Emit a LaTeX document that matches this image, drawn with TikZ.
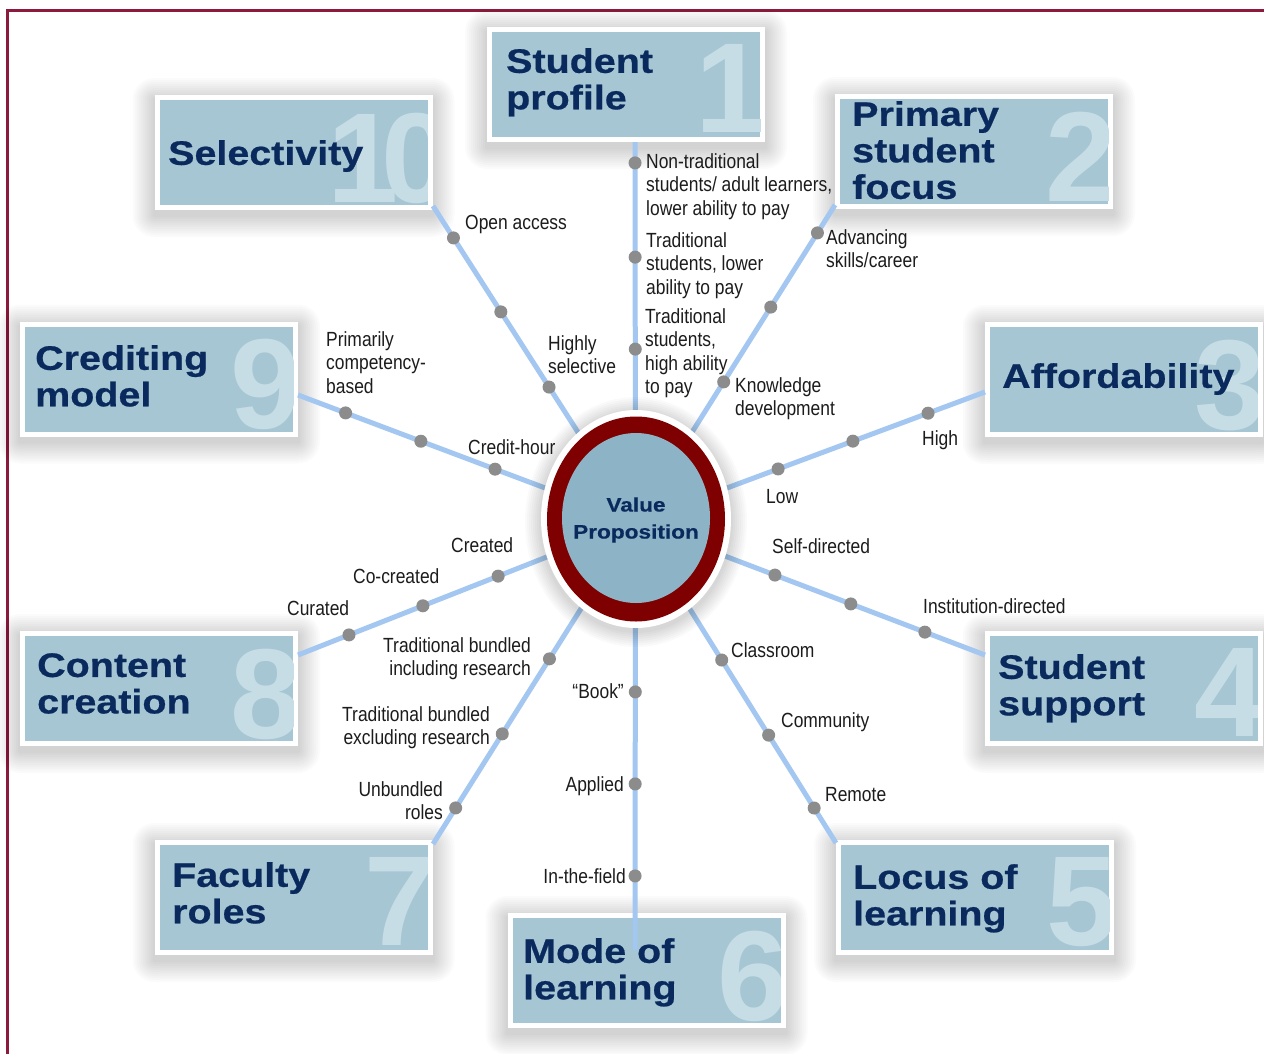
\documentclass[tikz,border=0pt]{standalone}
\usepackage{fontspec}
\setmainfont{Liberation Sans}
\newfontfamily\lblfont[FakeStretch=0.85]{Liberation Sans}
\newfontfamily\ttlfont[FakeStretch=1.16,FakeBold=0.6]{Liberation Sans Bold}
\newfontfamily\numfont{Liberation Sans Bold}
\usetikzlibrary{calc}
\definecolor{boxfill}{HTML}{A6C6D3}
\definecolor{numcol}{HTML}{C6DDE6}
\definecolor{navy}{HTML}{0A2A5E}
\definecolor{spokecol}{HTML}{A3C7F0}
\definecolor{dotcol}{HTML}{8C8C8C}
\definecolor{ringcol}{HTML}{7F0000}
\definecolor{corefill}{HTML}{8CB4C6}
\definecolor{framecol}{HTML}{8B1A3C}
\definecolor{lblcol}{HTML}{1C1C1C}
\tikzset{
 dimbox/.style={draw=white, line width=5pt, fill=boxfill, minimum width=273pt, minimum height=110pt, inner sep=0pt, outer sep=0pt},
 shadowlayer/.style={fill=black, opacity=0.016},
 ttl/.style={anchor=north west, inner sep=0pt, align=left, text=navy, font=\ttlfont\fontsize{34}{36.5}\selectfont},
 bignum/.style={anchor=north east, inner sep=0pt, text=numcol, font=\numfont\fontsize{128}{128}\selectfont},
 spoke/.style={draw=spokecol, line width=5pt},
 pip/.style={circle, fill=dotcol, minimum size=13pt, inner sep=0pt},
 lbl/.style={inner sep=0pt, text=lblcol, font=\lblfont\fontsize{20.5}{23.5}\selectfont},
 lblL/.style={lbl, anchor=north west, align=left},
 lblR/.style={lbl, anchor=north east, align=right},
}
\begin{document}
\begin{tikzpicture}[x=1pt,y=-1pt]
\useasboundingbox (0,0) rectangle (1264,1053);
\fill[white] (0,0) rectangle (1264,1053);
\draw[framecol, line width=3pt] (7.5,1070) -- (7.5,10.5) -- (1280,10.5);

% soft shadows of the boxes
\foreach \cx/\cy in {626/84.5, 974/151.5, 1123.5/379.5, 1123.5/688.5, 975/897.5, 646.5/970.5, 293.5/897.5, 159/688.5, 159/379, 293.5/152.5}{
  \foreach \k in {2,4,...,22}{
    \fill[shadowlayer, rounded corners=\k pt] (\cx-139-\k, \cy-57.5-\k+5) rectangle (\cx+139+\k, \cy+57.5+\k+5);
  }
}

% boxes
\node[dimbox] (b1) at (626,84.5) {};
\node[dimbox] (b2) at (974,151.5) {};
\node[dimbox] (b3) at (1123.5,379.5) {};
\node[dimbox] (b4) at (1123.5,688.5) {};
\node[dimbox] (b5) at (975,897.5) {};
\node[dimbox] (b6) at (646.5,970.5) {};
\node[dimbox] (b7) at (293.5,897.5) {};
\node[dimbox] (b8) at (159,688.5) {};
\node[dimbox] (b9) at (159,379) {};
\node[dimbox] (b10) at (293.5,152.5) {};

% big numbers
\foreach \b/\n/\dx in {b1/1/4,b2/2/6,b3/3/6,b4/4/6,b5/5/6,b6/6/6,b7/7/6,b8/8/6,b9/9/6,b10/{1\kern-17pt 0}/23}{
  \begin{scope}
    \clip ([xshift=2.5pt,yshift=-2.5pt]\b.north west) rectangle ([xshift=-2.5pt,yshift=2.5pt]\b.south east);
    \node[bignum] (n-\b) at ([xshift=\dx pt,yshift=-15pt]\b.north east) {\n};
  \end{scope}
}

% spokes
\coordinate (hub) at (635.5,522);
\coordinate (e1) at (635,142);
\coordinate (e2) at (835,205);
\coordinate (e3) at (985,392);
\coordinate (e4) at (985,655);
\coordinate (e5) at (836,843);
\coordinate (e6) at (635,950);
\coordinate (e7) at (433,844);
\coordinate (e8) at (298,655);
\coordinate (e9) at (298,395);
\coordinate (e10) at (433,206);
\foreach \e in {e1,e2,e3,e4,e5,e6,e7,e8,e9,e10}{\draw[spoke] (hub) -- (\e);}

% centre
\coordinate (c) at (636,519);
\foreach \k in {2,4,...,16}{
  \fill[fill=black, opacity=0.02] ([yshift=-3pt]c) ellipse [x radius=95pt+\k pt, y radius=109pt+\k pt];
}
\fill[white] (c) ellipse [x radius=95pt, y radius=109pt];
\fill[ringcol] (c) ellipse [x radius=89pt, y radius=102.5pt];
\fill[corefill] ([yshift=1pt]c) ellipse [x radius=74pt, y radius=85pt];
\node[align=center, inner sep=0pt, text=navy, font=\ttlfont\fontsize{19.5}{27}\selectfont] (vp) at (636,520) {Value\\Proposition};

% dots
\foreach \e/\p/\q/\r in {e1/0.455/0.697/0.945, e2/0.442/0.678/0.912, e3/0.408/0.622/0.837, e4/0.399/0.616/0.828,
  e5/0.430/0.664/0.891, e6/0.397/0.612/0.827, e7/0.425/0.658/0.888, e8/0.407/0.630/0.849,
  e9/0.416/0.636/0.859, e10/0.427/0.665/0.899}{
  \node[pip] (d-\e-1) at ($(hub)!\p!(\e)$) {};
  \node[pip] (d-\e-2) at ($(hub)!\q!(\e)$) {};
  \node[pip] (d-\e-3) at ($(hub)!\r!(\e)$) {};
}

% titles
\node[ttl] (t1) at (506,48) {Student\\profile};
\node[ttl] (t2) at (852,101) {Primary\\student\\focus};
\node[ttl] (t3) at (1002,363) {Affordability};
\node[ttl] (t4) at (998,654) {Student\\support};
\node[ttl] (t5) at (853,864) {Locus of\\learning};
\node[ttl] (t6) at (523,938) {Mode of\\learning};
\node[ttl] (t7) at (172,862) {Faculty\\roles};
\node[ttl] (t8) at (37,653) {Content\\creation};
\node[ttl] (t9) at (35,345) {Crediting\\model};
\node[ttl] (t10) at (168,140) {Selectivity};

% labels
\node[lblL] (l1a) at (646,153) {Non-traditional\\students/ adult learners,\\lower ability to pay};
\node[lblL] (l1b) at (646,232) {Traditional\\students, lower\\ability to pay};
\node[lblL] (l1c) at (645,308) {Traditional\\students,\\high ability\\to pay};
\node[lblL] (l2a) at (826,229) {Advancing\\skills/career};
\node[lblL] (l2b) at (735,377) {Knowledge\\development};
\node[lblL] (l3a) at (922,430) {High};
\node[lblL] (l3b) at (766,489) {Low};
\node[lblL] (l4a) at (772,538) {Self-directed};
\node[lblL] (l4b) at (923,598) {Institution-directed};
\node[lblL] (l5a) at (731,642) {Classroom};
\node[lblL] (l5b) at (781,712) {Community};
\node[lblL] (l5c) at (825,787) {Remote};
\node[lblR] (l6a) at (624,683) {“Book”};
\node[lblR] (l6b) at (624,776) {Applied};
\node[lblR] (l6c) at (626,868) {In-the-field};
\node[lblR] (l7a) at (443,781) {Unbundled\\roles};
\node[lblR] (l7b) at (490,706) {Traditional bundled\\excluding research};
\node[lblR] (l7c) at (531,637) {Traditional bundled\\including research};
\node[lblL] (l8a) at (287,600) {Curated};
\node[lblL] (l8b) at (353,568) {Co-created};
\node[lblL] (l8c) at (451,537) {Created};
\node[lblL] (l9a) at (468,439) {Credit-hour};
\node[lblL] (l9b) at (326,331) {Primarily\\competency-\\based};
\node[lblL] (l10a) at (548,335) {Highly\\selective};
\node[lblL] (l10b) at (465,215) {Open access};
\end{tikzpicture}
\end{document}
